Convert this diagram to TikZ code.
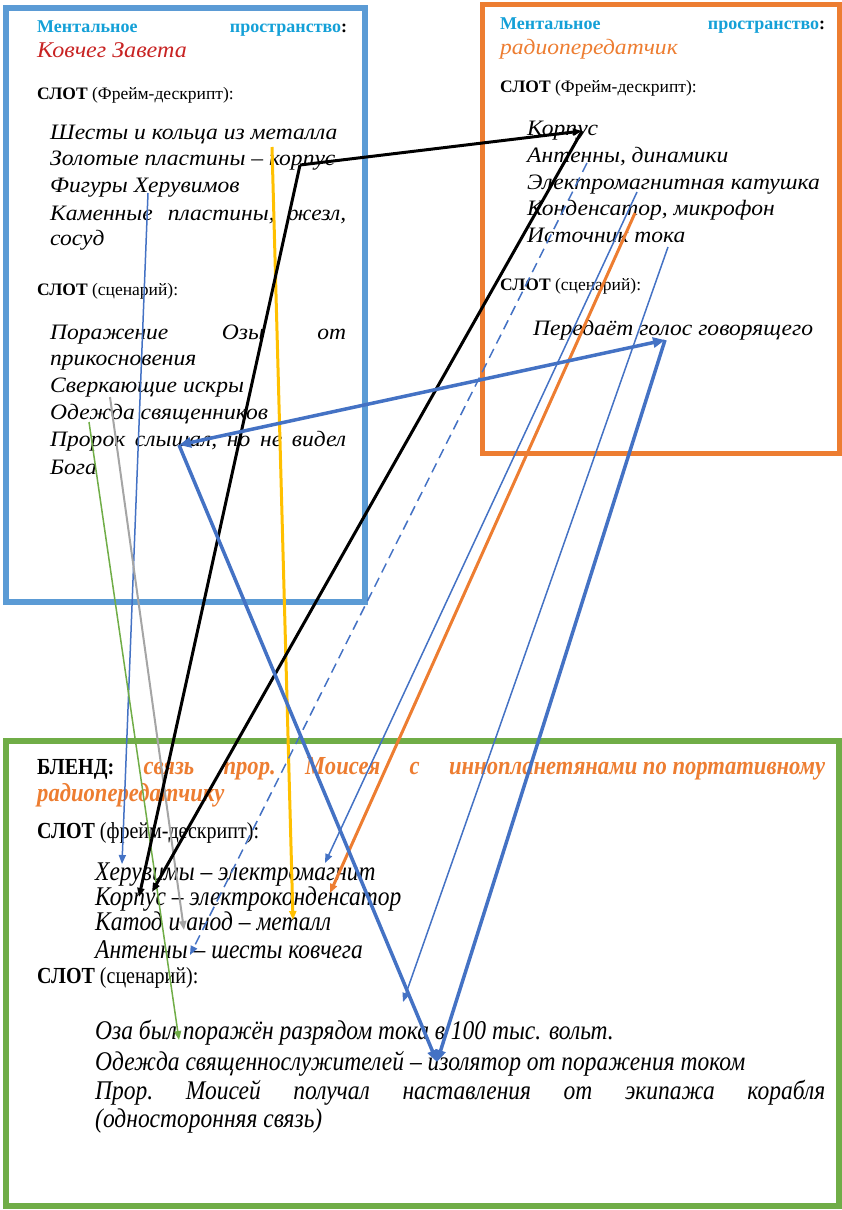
\documentclass[tikz,border=0pt]{standalone}
\usepackage{fontspec}
\setmainfont{Liberation Serif}
\newfontfamily\wideserif[FakeStretch=1.07]{Liberation Serif}
\newfontfamily\narrowserif[FakeStretch=0.87]{Liberation Serif}
\usepackage{xcolor}
\usepackage{tikz}
\usetikzlibrary{arrows.meta}
\definecolor{boxblue}{RGB}{91,155,213}
\definecolor{boxorange}{RGB}{237,125,49}
\definecolor{boxgreen}{RGB}{112,173,71}
\definecolor{linkblue}{RGB}{68,114,196}
\definecolor{headcyan}{RGB}{20,160,215}
\definecolor{arkred}{RGB}{200,35,35}
\definecolor{linkyellow}{RGB}{255,192,0}
\definecolor{linkgray}{RGB}{165,165,165}
\newcommand{\spread}[2]{\hbox to #1{#2}}

\begin{document}
\begin{tikzpicture}[x=1pt, y=-1pt,
    every node/.style={inner sep=0pt, anchor=mid west},
    head/.style={font=\bfseries\fontsize{18}{22}\selectfont, text=headcyan},
    slot/.style={font=\fontsize{17.5}{22}\selectfont},
    topitem/.style={font=\wideserif\itshape\fontsize{22}{26}\selectfont},
    spacename/.style={font=\wideserif\itshape\fontsize{22.5}{26}\selectfont},
    blendslot/.style={font=\narrowserif\fontsize{23}{26}\selectfont},
    blendname/.style={font=\narrowserif\bfseries\itshape\fontsize{26}{28}\selectfont, text=boxorange},
    blenditem/.style={font=\narrowserif\itshape\fontsize{27}{30}\selectfont},
    thinlink/.style={line width=1.5pt, -{Triangle[length=9pt,width=7pt]}},
    thicklink/.style={line width=3.5pt, -{Triangle[length=12pt,width=10pt]}}]

    \useasboundingbox (0,0) rectangle (842,1210);

    \draw[boxblue, line width=6pt] (6,8) rectangle (365,602);
    \draw[boxorange, line width=5pt] (482,4) rectangle (839,453);
    \draw[boxgreen, line width=6pt] (6,741) rectangle (839,1206);

    \node[head] (lhead) at (37,30) {\spread{310pt}{Ментальное\hfill пространство\textcolor{black}{:}}};
    \node[spacename, text=arkred] (ark) at (37,55) {Ковчег Завета};
    \node[slot] (lslotA) at (37,97) {\textbf{СЛОТ} (Фрейм-дескрипт):};
    \node[topitem] (l1) at (50,137) {Шесты и кольца из металла};
    \node[topitem] (l2) at (50,163) {Золотые пластины – корпус};
    \node[topitem] (l3) at (50,190) {Фигуры Херувимов};
    \node[topitem] (l4) at (50,218) {\spread{296pt}{Каменные\hfill пластины,\hfill жезл,}};
    \node[topitem] (l5) at (50,243) {сосуд};
    \node[slot] (lslotB) at (37,293) {\textbf{СЛОТ} (сценарий):};
    \node[topitem] (l6) at (50,337) {\spread{296pt}{Поражение\hfill Озы\hfill от}};
    \node[topitem] (l7) at (50,363) {прикосновения};
    \node[topitem] (l8) at (50,390) {Сверкающие искры};
    \node[topitem] (l9) at (50,417) {Одежда священников};
    \node[topitem] (l10) at (50,444) {\spread{296pt}{Пророк\hfill слышал,\hfill но\hfill не\hfill видел}};
    \node[topitem] (l11) at (50,472) {Бога};

    \node[head] (rhead) at (500,27) {\spread{325pt}{Ментальное\hfill пространство\textcolor{black}{:}}};
    \node[topitem, text=boxorange] (radio) at (500,52) {радиопередатчик};
    \node[slot] (rslotA) at (500,90) {\textbf{СЛОТ} (Фрейм-дескрипт):};
    \node[topitem] (r1) at (527,133) {Корпус};
    \node[topitem] (r2) at (527,160) {Антенны, динамики};
    \node[topitem] (r3) at (527,187) {Электромагнитная катушка};
    \node[topitem] (r4) at (527,213) {Конденсатор, микрофон};
    \node[topitem] (r5) at (527,240) {Источник тока};
    \node[slot] (rslotB) at (500,288) {\textbf{СЛОТ} (сценарий):};
    \node[topitem] (r6) at (533,333) {Передаёт голос говорящего};

    \node[blendslot] (bhead) at (37,772) {\spread{788pt}{\textbf{БЛЕНД:}\hfill{\color{boxorange}\bfseries\itshape\fontsize{26}{28}\selectfont связь\hfill прор.\hfill Моисея\hfill с\hfill инноплaнетянами по портативному}}};
    \node[blendname] (bhead2) at (37,799) {радиопередатчику};
    \node[blendslot] (bslotA) at (37,836) {\textbf{СЛОТ} (фрейм-дескрипт):};
    \node[blenditem] (b1) at (95,878) {Херувимы – электромагнит};
    \node[blenditem] (b2) at (95,903) {Корпус – электроконденсатор};
    \node[blenditem] (b3) at (95,928) {Катод и анод – металл};
    \node[blenditem] (b4) at (95,956) {Антенны – шесты ковчега};
    \node[blendslot] (bslotB) at (37,981) {\textbf{СЛОТ} (сценарий):};
    \node[blenditem] (b5) at (95,1037) {Оза был поражён разрядом тока в 100 тыс. вольт.};
    \node[blenditem] (b6) at (95,1068) {Одежда священнослужителей – изолятор от поражения током};
    \node[blenditem] (b7) at (95,1097) {\spread{730pt}{Прор.\hfill Моисей\hfill получал\hfill наставления\hfill от\hfill экипажа\hfill корабля}};
    \node[blenditem] (b8) at (95,1125) {(односторонняя связь)};

    \coordinate (cherA) at (148,193);
    \coordinate (cherB) at (122,864);
    \coordinate (korpL) at (300,165);
    \coordinate (korpR) at (582,131);
    \coordinate (korpB) at (139,897);
    \coordinate (korpC) at (152,892);
    \coordinate (metA) at (272,147);
    \coordinate (metB) at (293,920);
    \coordinate (sparkA) at (110,397);
    \coordinate (sparkB) at (184,930);
    \coordinate (robeA) at (89,422);
    \coordinate (robeB) at (179,1040);
    \coordinate (prophet) at (179,445);
    \coordinate (voice) at (665,340);
    \coordinate (moses) at (437,1062);
    \coordinate (antA) at (587,163);
    \coordinate (antB) at (190,955);
    \coordinate (coilA) at (637,192);
    \coordinate (coilB) at (325,863);
    \coordinate (condA) at (635,213);
    \coordinate (condB) at (330,893);
    \coordinate (srcA) at (668,247);
    \coordinate (srcB) at (403,1002);

    \draw[thinlink, linkblue] (cherA) -- (cherB);
    \draw[thinlink, linkyellow, line width=3pt] (metA) -- (metB);
    \draw[thinlink, linkgray, line width=2pt] (sparkA) -- (sparkB);
    \draw[thinlink, boxgreen] (robeA) -- (robeB);
    \draw[thinlink, linkblue, dashed, dash pattern=on 10pt off 6pt] (antA) -- (antB);
    \draw[thinlink, linkblue] (coilA) -- (coilB);
    \draw[thinlink, boxorange, line width=3pt] (condA) -- (condB);
    \draw[thinlink, linkblue] (srcA) -- (srcB);
    \draw[thinlink, black, line width=3pt] (korpL) -- (korpR);
    \draw[thinlink, black, line width=3pt] (korpL) -- (korpB);
    \draw[thinlink, black, line width=3pt] (korpR) -- (korpC);
    \draw[thicklink, linkblue, {Triangle[length=12pt,width=10pt]}-{Triangle[length=12pt,width=10pt]}] (prophet) -- (voice);
    \draw[thicklink, linkblue] (prophet) -- (moses);
    \draw[thicklink, linkblue] (voice) -- (moses);

\end{tikzpicture}
\end{document}
